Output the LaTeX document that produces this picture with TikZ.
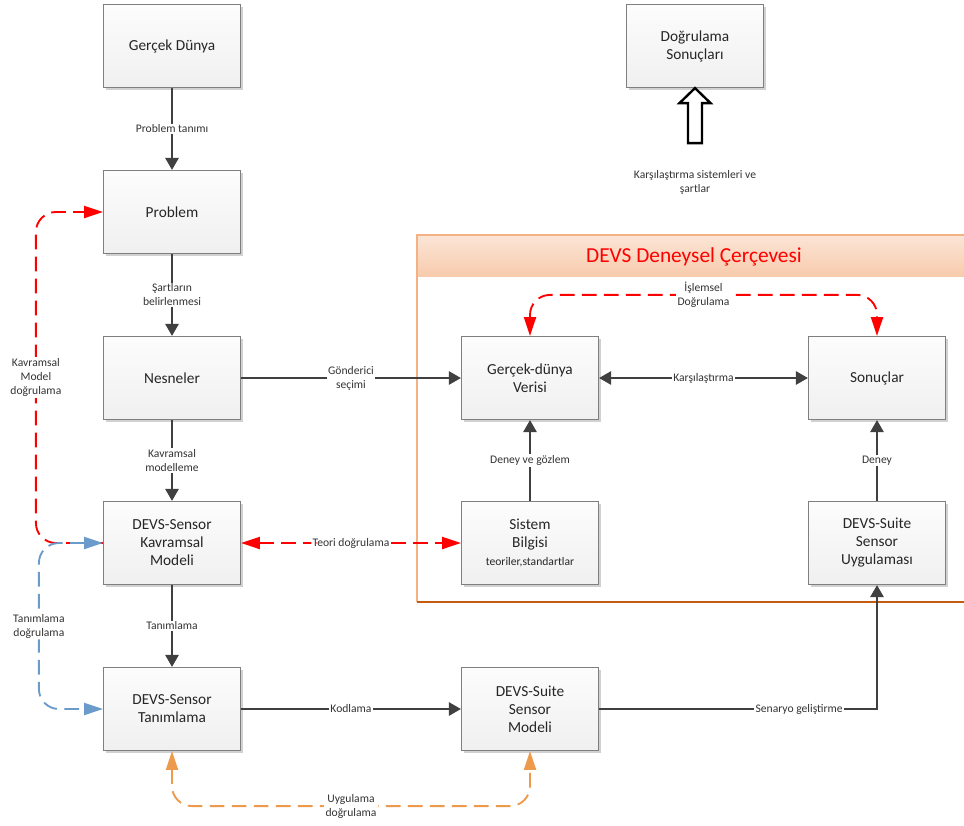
\documentclass[tikz,border=0pt]{standalone}
\usepackage{fontspec}
\setmainfont{Carlito}
\usetikzlibrary{arrows.meta,shadows}

\tikzset{
  box/.style={draw=boxline, line width=0.9pt, top color=gray!2, bottom color=gray!12,
    minimum width=102.75pt, minimum height=62.25pt, align=center, text=black!85,
    font=\fontsize{11.5}{13.5}\selectfont,
    drop shadow={shadow xshift=1.5pt, shadow yshift=-1.5pt, opacity=0.18, fill=black}},
  flow/.style={draw=flowline, line width=1.3pt, -{Triangle[length=9pt,width=10pt]}},
  lbl/.style={fill=white, inner sep=1pt, align=center, text=black!80,
    font=\fontsize{8.7}{10.5}\selectfont},
  check/.style={dash pattern=on 11pt off 5.5pt, line width=1.4pt, rounded corners=15pt,
    {Triangle[length=14pt,width=9pt]}-{Triangle[length=14pt,width=9pt]}},
}

\begin{document}
\begin{tikzpicture}[x=0.75pt, y=-0.75pt]
\definecolor{boxline}{HTML}{7F7F7F}
\definecolor{flowline}{HTML}{404040}
\definecolor{redval}{HTML}{FF0000}
\definecolor{blueval}{HTML}{6A9BCB}
\definecolor{orangeval}{HTML}{EE9A4D}
\definecolor{frameline}{HTML}{F4B183}
\definecolor{framebottom}{HTML}{C55A11}
\definecolor{headtop}{HTML}{FBE5D6}
\definecolor{headbot}{HTML}{F8CBAD}
\useasboundingbox (0,0) rectangle (964,825);

% deneysel cerceve
\shade[top color=headtop, bottom color=headbot] (417,235) rectangle (964,276);
\draw[frameline, line width=1pt] (964,235) -- (417,235) -- (417,602);
\draw[framebottom, line width=1pt] (417,602) -- (964,602);
\node[font=\fontsize{16}{19}\selectfont, text=redval] (baslik) at (694,257) {DEVS Deneysel Çerçevesi};

% kutular
\node[box] (gercek) at (172,46) {Gerçek Dünya};
\node[box] (problem) at (172,212) {Problem};
\node[box] (nesne) at (172,378) {Nesneler};
\node[box] (kavram) at (172,543) {DEVS-Sensor\\Kavramsal\\Modeli};
\node[box] (tanim) at (172,709) {DEVS-Sensor\\Tanımlama};
\node[box] (suite) at (530,709) {DEVS-Suite\\Sensor\\Modeli};
\node[box] (veri) at (530,378) {Gerçek-dünya\\Verisi};
\node[box] (bilgi) at (530,543) {Sistem\\Bilgisi\\{\fontsize{8.7}{10.5}\selectfont teoriler,standartlar}};
\node[box] (sonuc) at (877,378) {Sonuçlar};
\node[box] (uygula) at (877,543) {DEVS-Suite\\Sensor\\Uygulaması};
\node[box] (dsonuc) at (695,46) {Doğrulama\\Sonuçları};

% bos ok
\draw[line width=1.8pt, fill=white] (dsonuc.south) -- ++(15.5,15) -- ++(-8.5,0) -- ++(0,40)
  -- ++(-14,0) -- ++(0,-40) -- ++(-8.5,0) -- cycle;
\node[lbl, fill=none] (karsi) at (695,182) {Karşılaştırma sistemleri ve\\şartlar};

% akis
\draw[flow] (gercek) -- node[lbl] {Problem tanımı} (problem);
\draw[flow] (problem) -- node[lbl] {Şartların\\belirlenmesi} (nesne);
\draw[flow] (nesne) -- node[lbl] {Kavramsal\\modelleme} (kavram);
\draw[flow] (kavram) -- node[lbl] {Tanımlama} (tanim);
\draw[flow] (nesne) -- node[lbl] {Gönderici\\seçimi} (veri);
\draw[flow] (tanim) -- node[lbl] {Kodlama} (suite);
\draw[flow] (bilgi) -- node[lbl] {Deney ve gözlem} (veri);
\draw[flow] (uygula) -- node[lbl] {Deney} (sonuc);
\draw[flow, {Triangle[length=9pt,width=10pt]}-{Triangle[length=9pt,width=10pt]}] (veri) -- node[lbl] {Karşılaştırma} (sonuc);
\draw[flow] (suite) -| node[lbl, pos=0.36] {Senaryo geliştirme} (uygula);

% dogrulama
\draw[check, redval, -{Triangle[length=14pt,width=9pt]}] (kavram.west) -- ++(-67,0)
  |- node[lbl, pos=0.25] {Kavramsal\\Model\\doğrulama} (problem.west);
\draw[check, blueval] (kavram.west) -- ++(-64,0)
  |- node[lbl, pos=0.25] {Tanımlama\\doğrulama} (tanim.west);
\draw[check, redval] (kavram) -- node[lbl] {Teori doğrulama} (bilgi);
\draw[check, redval] (veri.north) -- ++(0,-41)
  -| node[lbl, pos=0.25] {İşlemsel\\Doğrulama} (sonuc.north);
\draw[check, orangeval] (tanim.south) -- ++(0,55)
  -| node[lbl, pos=0.25] {Uygulama\\doğrulama} (suite.south);
\end{tikzpicture}
\end{document}
